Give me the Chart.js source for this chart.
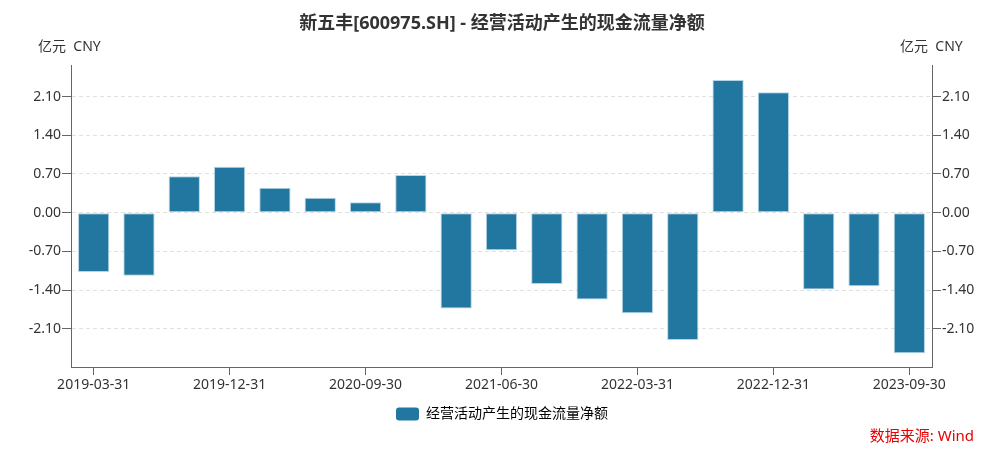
<!DOCTYPE html>
<html>
<head>
<meta charset="utf-8">
<script src="https://cdn.jsdelivr.net/npm/chart.js@4/dist/chart.umd.min.js"></script>
<style>
  html, body { margin: 0; padding: 0; background: #fff; }
  #miGrafica { display: block; }
</style>
</head>
<body>
<canvas id="miGrafica" width="1004" height="455"></canvas>
<script>
// fechas de los trimestres
const fechas = [
  '2019-03-31', '2019-06-30', '2019-09-30', '2019-12-31',
  '2020-03-31', '2020-06-30', '2020-09-30', '2020-12-31',
  '2021-03-31', '2021-06-30', '2021-09-30', '2021-12-31',
  '2022-03-31', '2022-06-30', '2022-09-30', '2022-12-31',
  '2023-03-31', '2023-06-30', '2023-09-30'
];
// 经营活动产生的现金流量净额 (亿元)
const flujoNeto = [
  -1.07, -1.14, 0.66, 0.83,
  0.45, 0.27, 0.19, 0.68,
  -1.73, -0.68, -1.29, -1.57,
  -1.82, -2.30, 2.40, 2.18,
  -1.39, -1.33, -2.54
];
const ticksY = [-2.10, -1.40, -0.70, 0.00, 0.70, 1.40, 2.10];
const minY = -2.79;
const maxY = 2.66;

const fuente = '"Noto Sans", "Noto Sans CJK SC", sans-serif';

// textos extra: unidades y fuente de datos
const textosExtra = {
  id: 'textosExtra',
  afterDraw(chart) {
    const ctx = chart.ctx;
    ctx.save();
    ctx.font = '14px ' + fuente;
    ctx.fillStyle = '#333';
    ctx.textBaseline = 'middle';
    ctx.textAlign = 'left';
    ctx.fillText('亿元  CNY', 38, 47);
    ctx.fillText('亿元  CNY', 900, 47);
    ctx.font = '15px ' + fuente;
    ctx.fillStyle = '#e60000';
    ctx.textAlign = 'right';
    ctx.fillText('数据来源: Wind', 974, 437);
    ctx.restore();
  }
};

const ejeY = (pos) => ({
  type: 'linear',
  position: pos,
  min: minY,
  max: maxY,
  afterBuildTicks: (s) => { s.ticks = ticksY.map(v => ({ value: v })); },
  afterFit: (s) => { s.width = pos === 'left' ? 71 : 72; },
  ticks: {
    color: '#333',
    font: { size: 14, family: fuente },
    padding: 1,
    callback: (v) => Number(v).toFixed(2)
  },
  grid: {
    display: true,
    drawOnChartArea: pos === 'left',
    color: '#e0e0e0',
    tickColor: '#666',
    tickLength: 9
  },
  border: { display: true, color: '#666', width: 1, dash: [4, 3] }
});

const ctx = document.getElementById('miGrafica').getContext('2d');
new Chart(ctx, {
  type: 'bar',
  data: {
    labels: fechas,
    datasets: [{
      label: '经营活动产生的现金流量净额',
      data: flujoNeto,
      backgroundColor: '#2277a0',
      borderColor: '#b4d5e5',
      borderWidth: 1,
      borderSkipped: false,
      categoryPercentage: 0.69,
      barPercentage: 1.0,
      yAxisID: 'y'
    }]
  },
  options: {
    responsive: false,
    animation: false,
    devicePixelRatio: 1,
    layout: { padding: { left: 0, right: 0, top: 0, bottom: 24 } },
    plugins: {
      title: {
        display: true,
        text: '新五丰[600975.SH] - 经营活动产生的现金流量净额',
        color: '#333',
        font: { size: 18, weight: 'bold', family: fuente },
        padding: { top: 13, bottom: 31 }
      },
      legend: {
        position: 'bottom',
        labels: {
          color: '#333',
          font: { size: 14, family: fuente },
          boxWidth: 23,
          boxHeight: 13,
          useBorderRadius: true,
          borderRadius: 3,
          padding: 10,
          generateLabels: (chart) => [{
            text: '经营活动产生的现金流量净额',
            fillStyle: '#2277a0',
            strokeStyle: '#2277a0',
            lineWidth: 0,
            borderRadius: 3,
            datasetIndex: 0
          }]
        }
      },
      tooltip: { enabled: false }
    },
    scales: {
      x: {
        offset: true,
        afterFit: (s) => { s.height = 30; },
        ticks: {
          autoSkip: false,
          maxRotation: 0,
          color: '#333',
          font: { size: 14, family: fuente },
          padding: 2,
          callback: (v, i) => (i % 3 === 0 ? fechas[i] : null)
        },
        grid: {
          offset: false,
          drawOnChartArea: false,
          tickColor: '#666',
          tickLength: 8
        },
        border: { color: '#666', width: 1 }
      },
      y: ejeY('left'),
      y2: ejeY('right')
    }
  },
  plugins: [textosExtra]
});
</script>
</body>
</html>
